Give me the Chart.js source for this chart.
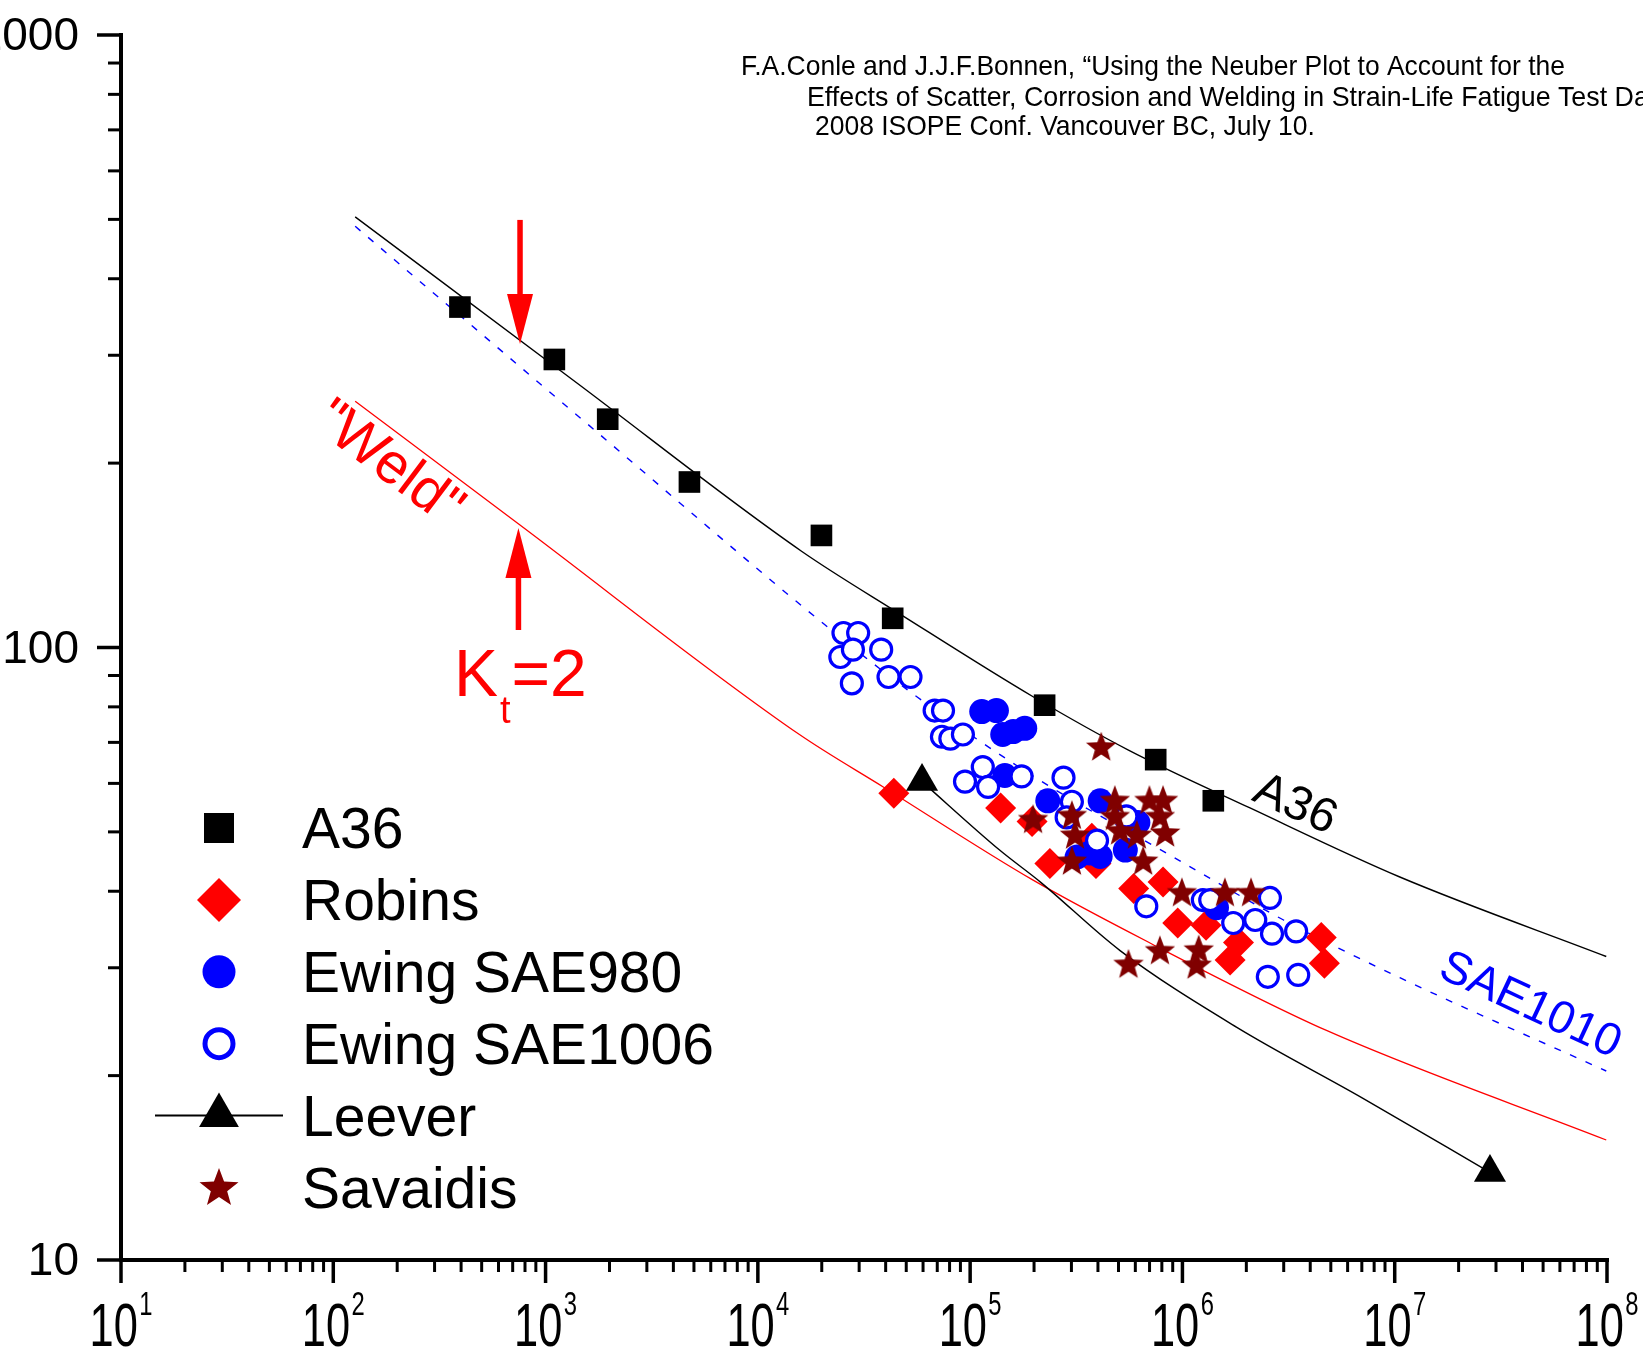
<!DOCTYPE html>
<html lang="en">
  <head>
    <meta charset="UTF-8" />
    <title>Neuber plot - strain-life fatigue data</title>
    <script src="https://cdn.jsdelivr.net/npm/chart.js"></script>
    <style>
      html, body { margin: 0; padding: 0; background: #fff; }
      canvas { display: block; }
    </style>
  </head>
  <body>
    <canvas id="neuberChart" width="1643" height="1351"></canvas>

    <script>
      // Axis ticks
      const xMajorTicks = [1e1, 1e2, 1e3, 1e4, 1e5, 1e6, 1e7, 1e8];
      const xTickExponents = ['1', '2', '3', '4', '5', '6', '7', '8'];
      const yMajorTicks = [10, 100, 1000];
      const yTickLabels = ['10', '100', '1000'];

      // A36 test points (N, S)
      const a36N = [395, 1100, 1962, 4761, 19930, 43170, 224300, 748300, 1398000];
      const a36S = [359.6, 295.3, 235.9, 186.3, 152.4, 111.6, 80.5, 65.6, 56.2];

      // Robins
      const robinsN = [43700, 139200, 195700, 237500, 374200, 391500, 589400, 810300, 950200, 1292000, 1837000, 1677000, 4508000, 4664000];
      const robinsS = [57.8, 54.7, 52.0, 44.4, 48.8, 44.4, 40.4, 41.4, 35.5, 35.2, 33.0, 30.9, 33.6, 30.5];

      // Ewing SAE980 (filled)
      const sae980N = [113400, 133000, 142400, 159500, 180800, 145700, 232100, 409700, 319100, 365800, 409700, 538300, 616900, 1447000];
      const sae980S = [78.6, 78.9, 72.1, 72.9, 73.8, 61.8, 56.2, 56.2, 45.5, 46.2, 45.6, 46.7, 51.8, 37.6];

      // Ewing SAE1006 (open)
      const sae1006N = [25310, 29680, 24460, 28040, 38100, 27720, 41260, 52370, 68030, 74510, 73650, 80670, 92450, 94580,
        114700, 121500, 174700, 275300, 301500, 284900, 396000, 544400, 675700, 1248000, 1352000, 1735000, 2203000,
        2583000, 2642000, 3432000, 2525000, 3511000];
      const sae1006S = [105.6, 105.6, 96.5, 99.2, 99.2, 87.4, 89.5, 89.5, 78.9, 78.9, 71.5, 71.0, 72.1, 60.4,
        63.8, 59.2, 61.6, 61.3, 56.0, 52.8, 48.4, 53.0, 37.8, 38.7, 38.7, 35.5, 35.9,
        39.0, 34.1, 34.4, 29.0, 29.2];

      // Leever curve, symbols only at the ends
      const leeverN = [59340, 137600, 214400, 508500, 1796000, 7022000, 28100000];
      const leeverS = [60.4, 46.7, 41.4, 32.0, 24.0, 18.4, 13.9];

      // Savaidis
      const savaidisN = [414500, 198000, 301500, 311900, 301500, 480400, 480400, 508500, 610000, 699000, 810300,
        783300, 829100, 653000, 994300, 1585000, 2105000, 556900, 783300, 1193000, 1166000];
      const savaidisS = [68.8, 52.4, 53.2, 49.4, 44.8, 56.3, 53.0, 50.2, 49.4, 56.3, 56.3,
        53.0, 49.8, 44.8, 39.8, 39.8, 39.8, 30.4, 32.0, 32.1, 30.3];

      // Fitted curves
      const a36CurveN = [126.8, 1395, 16060, 46750, 198000, 556900, 2081000, 10570000, 99200000];
      const a36CurveS = [504.7, 270.8, 143.6, 113.4, 83.1, 68.0, 54.7, 42.2, 31.3];
      const sae1010CurveN = [126.8, 1563, 20620, 56100, 214400, 838300, 2995000, 10570000, 99200000];
      const sae1010CurveS = [487.1, 232.2, 109.0, 83.1, 60.6, 46.2, 35.9, 28.9, 20.35];
      const weldCurveN = [126.8, 746.7, 15700, 38980, 198000, 707000, 4771000, 99200000];
      const weldCurveS = [252.3, 159.1, 72.1, 59.2, 41.7, 32.9, 23.7, 15.7];

      const titleLines = [
        'F.A.Conle and J.J.F.Bonnen, \u201cUsing the Neuber Plot to Account for the',
        'Effects of Scatter, Corrosion and Welding in Strain-Life Fatigue Test Data,\u201d',
        '2008 ISOPE Conf. Vancouver BC, July 10.'
      ];

      const FONT = '"Liberation Sans", Arial, sans-serif';
      const DARK_RED = '#800000';

      const zip = (xs, ys) => xs.map((v, i) => ({ x: v, y: ys[i] }));

      // filled five point star used as point style
      function traceStar(g, cx, cy, R, r) {
        g.beginPath();
        for (let i = 0; i < 10; i++) {
          const ang = -Math.PI / 2 + i * Math.PI / 5;
          const rad = i % 2 ? r : R;
          const px = cx + Math.cos(ang) * rad;
          const py = cy + Math.sin(ang) * rad;
          if (i === 0) g.moveTo(px, py); else g.lineTo(px, py);
        }
        g.closePath();
      }
      function starImage(R, color) {
        const size = Math.ceil(R * 2 + 2);
        const c = document.createElement('canvas');
        c.width = size;
        c.height = size;
        const g = c.getContext('2d');
        g.fillStyle = color;
        traceStar(g, size / 2, size / 2 + R * 0.05, R, R * 0.42);
        g.fill();
        return c;
      }

      // draws the axes, ticks and tick labels from the scales
      const axesPlugin = {
        id: 'axes',
        afterDatasetsDraw(chart) {
          const { ctx, chartArea: area, scales: { x, y } } = chart;
          ctx.save();
          ctx.strokeStyle = '#000';
          ctx.fillStyle = '#000';

          // axis lines
          ctx.lineWidth = 4;
          ctx.beginPath();
          ctx.moveTo(area.left, area.top - 2);
          ctx.lineTo(area.left, area.bottom);
          ctx.lineTo(area.right + 2, area.bottom);
          ctx.stroke();

          // x ticks
          ctx.lineWidth = 3.5;
          xMajorTicks.forEach((v, i) => {
            const px = x.getPixelForValue(v);
            ctx.beginPath();
            ctx.moveTo(px, area.bottom);
            ctx.lineTo(px, area.bottom + 23);
            ctx.stroke();
            if (i < xMajorTicks.length - 1) {
              ctx.lineWidth = 3;
              for (let d = 2; d <= 9; d++) {
                const mx = x.getPixelForValue(v * d);
                ctx.beginPath();
                ctx.moveTo(mx, area.bottom);
                ctx.lineTo(mx, area.bottom + 12);
                ctx.stroke();
              }
              ctx.lineWidth = 3.5;
            }
          });

          // y ticks
          yMajorTicks.forEach((v, i) => {
            const py = y.getPixelForValue(v);
            ctx.lineWidth = 3.5;
            ctx.beginPath();
            ctx.moveTo(area.left, py);
            ctx.lineTo(area.left - 24, py);
            ctx.stroke();
            if (i < yMajorTicks.length - 1) {
              ctx.lineWidth = 3;
              for (let d = 2; d <= 9; d++) {
                const my = y.getPixelForValue(v * d);
                ctx.beginPath();
                ctx.moveTo(area.left, my);
                ctx.lineTo(area.left - 13, my);
                ctx.stroke();
              }
            }
          });

          // y labels
          ctx.font = '46px ' + FONT;
          ctx.textAlign = 'right';
          ctx.textBaseline = 'alphabetic';
          yMajorTicks.forEach((v, i) => {
            ctx.fillText(yTickLabels[i], area.left - 42, y.getPixelForValue(v) + 15);
          });

          // x labels: 10 with superscript exponent, condensed
          const sx = 0.7;
          xMajorTicks.forEach((v, i) => {
            const px = x.getPixelForValue(v);
            ctx.save();
            ctx.translate(px, area.bottom + 86);
            ctx.scale(sx, 1);
            ctx.textAlign = 'left';
            ctx.font = '62px ' + FONT;
            const w1 = ctx.measureText('10').width;
            ctx.font = '34px ' + FONT;
            const w2 = ctx.measureText(xTickExponents[i]).width;
            const left = -(w1 + w2 + 2) / 2;
            ctx.font = '62px ' + FONT;
            ctx.fillText('10', left, 0);
            ctx.font = '34px ' + FONT;
            ctx.fillText(xTickExponents[i], left + w1 + 2, -31);
            ctx.restore();
          });
          ctx.restore();
        }
      };

      // annotation text and arrows, placed in data coordinates
      const arrows = [
        { n: 758, from: 499, to: 313 },
        { n: 745, from: 106.8, to: 156.7 }
      ];
      const rotatedLabels = [
        { text: 'A36', n: 3.39e6, s: 55.3, angle: 24, size: 48, color: '#000' },
        { text: 'SAE1010', n: 4.34e7, s: 26.0, angle: 25, size: 46, color: '#0000ff' },
        { text: '"Weld"', n: 182, s: 199, angle: 37, size: 57, color: '#ff0000' }
      ];
      const ktLabel = { n: 370, s: 83.3 };

      const legendItems = [
        { label: 'A36', marker: 'square' },
        { label: 'Robins', marker: 'diamond' },
        { label: 'Ewing SAE980', marker: 'dot' },
        { label: 'Ewing SAE1006', marker: 'ring' },
        { label: 'Leever', marker: 'triangle' },
        { label: 'Savaidis', marker: 'star' }
      ];

      function drawMarker(ctx, type, cx, cy) {
        ctx.save();
        ctx.beginPath();
        if (type === 'square') {
          ctx.fillStyle = '#000';
          ctx.fillRect(cx - 15, cy - 15, 30, 30);
        } else if (type === 'diamond') {
          ctx.fillStyle = '#ff0000';
          ctx.moveTo(cx, cy - 22); ctx.lineTo(cx + 22, cy);
          ctx.lineTo(cx, cy + 22); ctx.lineTo(cx - 22, cy);
          ctx.closePath(); ctx.fill();
        } else if (type === 'dot') {
          ctx.fillStyle = '#0000ff';
          ctx.arc(cx, cy, 16.5, 0, Math.PI * 2); ctx.fill();
        } else if (type === 'ring') {
          ctx.strokeStyle = '#0000ff'; ctx.lineWidth = 5;
          ctx.arc(cx, cy, 14, 0, Math.PI * 2); ctx.stroke();
        } else if (type === 'triangle') {
          ctx.strokeStyle = '#000'; ctx.lineWidth = 2;
          ctx.moveTo(cx - 64, cy); ctx.lineTo(cx + 64, cy); ctx.stroke();
          ctx.beginPath();
          ctx.fillStyle = '#000';
          const r = 23;
          ctx.moveTo(cx, cy - r);
          ctx.lineTo(cx + r * 0.866, cy + r / 2);
          ctx.lineTo(cx - r * 0.866, cy + r / 2);
          ctx.closePath(); ctx.fill();
        } else if (type === 'star') {
          ctx.fillStyle = DARK_RED;
          traceStar(ctx, cx, cy + 1, 20.5, 8.6); ctx.fill();
        }
        ctx.restore();
      }

      const notesPlugin = {
        id: 'notes',
        afterDatasetsDraw(chart) {
          const { ctx, scales: { x, y } } = chart;
          ctx.save();

          // reference text, condensed like the original
          ctx.fillStyle = '#000';
          ctx.font = '28px ' + FONT;
          ctx.textAlign = 'left';
          ctx.textBaseline = 'alphabetic';
          const squeeze = 824 / ctx.measureText(titleLines[0]).width;
          [[741, 74.5, 1], [807, 105.5, 1.012], [815, 135, 1]].forEach((p, i) => {
            ctx.save();
            ctx.translate(p[0], p[1]);
            ctx.scale(squeeze * p[2], 1);
            ctx.fillText(titleLines[i], 0, 0);
            ctx.restore();
          });

          // arrows
          ctx.fillStyle = '#ff0000';
          ctx.strokeStyle = '#ff0000';
          arrows.forEach(a => {
            const px = x.getPixelForValue(a.n);
            const y0 = y.getPixelForValue(a.from);
            const y1 = y.getPixelForValue(a.to);
            const dir = Math.sign(y1 - y0);
            const head = 50;
            ctx.lineWidth = 5.5;
            ctx.beginPath();
            ctx.moveTo(px, y0);
            ctx.lineTo(px, y1 - dir * head);
            ctx.stroke();
            ctx.beginPath();
            ctx.moveTo(px, y1);
            ctx.lineTo(px + 13, y1 - dir * head);
            ctx.lineTo(px - 13, y1 - dir * head);
            ctx.closePath();
            ctx.fill();
          });

          // K_t = 2
          const kx = x.getPixelForValue(ktLabel.n);
          const ky = y.getPixelForValue(ktLabel.s);
          ctx.font = '66px ' + FONT;
          ctx.fillText('K', kx, ky);
          const wK = ctx.measureText('K').width;
          ctx.font = '38px ' + FONT;
          ctx.fillText('t', kx + wK + 2, ky + 27);
          const wt = ctx.measureText('t').width;
          ctx.font = '66px ' + FONT;
          ctx.fillText('=2', kx + wK + wt + 3, ky);

          // rotated curve labels
          rotatedLabels.forEach(l => {
            ctx.save();
            ctx.translate(x.getPixelForValue(l.n), y.getPixelForValue(l.s));
            ctx.rotate(l.angle * Math.PI / 180);
            ctx.fillStyle = l.color;
            ctx.font = l.size + 'px ' + FONT;
            ctx.textAlign = 'center';
            ctx.textBaseline = 'middle';
            ctx.fillText(l.text, 0, 0);
            ctx.restore();
          });

          // legend
          legendItems.forEach((item, i) => {
            const cy = 828 + i * 71.9;
            drawMarker(ctx, item.marker, 219, cy);
            ctx.fillStyle = '#000';
            ctx.font = '57px ' + FONT;
            ctx.textAlign = 'left';
            ctx.textBaseline = 'alphabetic';
            ctx.fillText(item.label, 302, cy + 20);
          });

          ctx.restore();
        }
      };

      const lastLeever = leeverN.length - 1;

      new Chart(document.getElementById('neuberChart'), {
        type: 'scatter',
        data: {
          datasets: [
            {
              label: 'Savaidis',
              data: zip(savaidisN, savaidisS),
              pointStyle: starImage(16, DARK_RED),
              pointRadius: 15,
              order: 0
            },
            {
              label: 'Leever',
              data: zip(leeverN, leeverS),
              showLine: true,
              borderColor: '#000',
              borderWidth: 1.4,
              cubicInterpolationMode: 'monotone',
              pointStyle: 'triangle',
              pointRadius: c => (c.dataIndex === 0 || c.dataIndex === lastLeever) ? 18.5 : 0,
              pointBackgroundColor: '#000',
              pointBorderWidth: 0,
              order: 1
            },
            {
              label: 'Ewing SAE1006',
              data: zip(sae1006N, sae1006S),
              pointStyle: 'circle',
              pointRadius: 10.5,
              pointBackgroundColor: '#fff',
              pointBorderColor: '#0000ff',
              pointBorderWidth: 3.2,
              order: 2
            },
            {
              label: 'Ewing SAE980',
              data: zip(sae980N, sae980S),
              pointStyle: 'circle',
              pointRadius: 12.5,
              pointBackgroundColor: '#0000ff',
              pointBorderWidth: 0,
              order: 3
            },
            {
              label: 'Robins',
              data: zip(robinsN, robinsS),
              pointStyle: 'rectRot',
              pointRadius: 15.5,
              pointBackgroundColor: '#ff0000',
              pointBorderWidth: 0,
              order: 4
            },
            {
              label: 'A36',
              data: zip(a36N, a36S),
              pointStyle: 'rect',
              pointRadius: 15.3,
              pointBackgroundColor: '#000',
              pointBorderWidth: 0,
              order: 5
            },
            {
              label: 'A36 fit',
              data: zip(a36CurveN, a36CurveS),
              showLine: true,
              borderColor: '#000',
              borderWidth: 1.4,
              cubicInterpolationMode: 'monotone',
              pointRadius: 0,
              order: 6
            },
            {
              label: 'SAE1010',
              data: zip(sae1010CurveN, sae1010CurveS),
              showLine: true,
              borderColor: '#0000ff',
              borderWidth: 1.4,
              borderDash: [7, 10],
              cubicInterpolationMode: 'monotone',
              pointRadius: 0,
              order: 7
            },
            {
              label: 'Weld',
              data: zip(weldCurveN, weldCurveS),
              showLine: true,
              borderColor: '#ff0000',
              borderWidth: 1.3,
              cubicInterpolationMode: 'monotone',
              pointRadius: 0,
              order: 8
            }
          ]
        },
        options: {
          responsive: false,
          animation: false,
          devicePixelRatio: 1,
          events: [],
          layout: { padding: { left: 121, top: 35, right: 36, bottom: 91 } },
          plugins: {
            legend: { display: false },
            tooltip: { enabled: false }
          },
          scales: {
            x: { type: 'logarithmic', min: 10, max: 1e8, display: false },
            y: { type: 'logarithmic', min: 10, max: 1000, display: false }
          }
        },
        plugins: [axesPlugin, notesPlugin]
      });
    </script>
  </body>
</html>
